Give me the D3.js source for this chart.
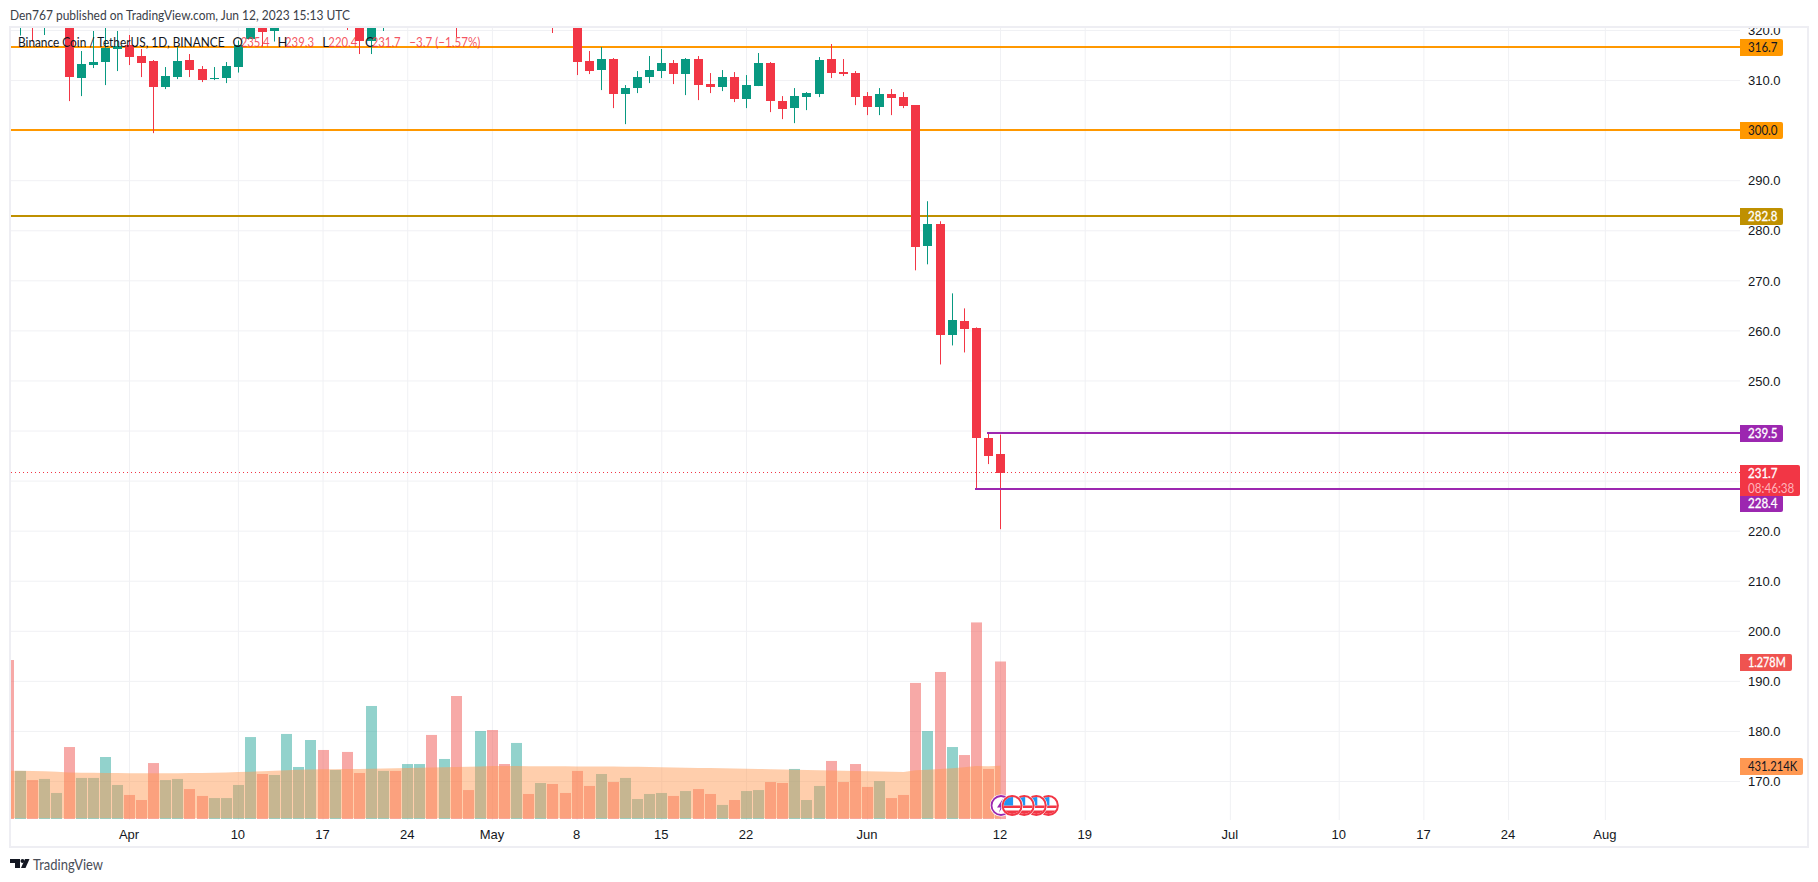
<!DOCTYPE html>
<html>
<head>
<meta charset="utf-8">
<title>BNB / TetherUS</title>
<script src="https://cdn.jsdelivr.net/npm/d3@7"></script>
<style>
    html, body { margin: 0; background: #fff; overflow: hidden; }
    svg { display: block; font-family: Lato, "Open Sans", sans-serif; font-size: 13px; }
    .tick line { stroke: #f0f1f4; }
    .tick text { fill: #131722; font-size: 13px; }
</style>
</head>
<body>
<svg id="chart" width="1818" height="882"></svg>
<script>
// Daily candles, first bar is 22 Mar 2023. Anything above 320.6 is off the top of the picture so those are guesses
const openPrices = [330, 326, 329, 324, 326, 328, 310.6, 313.1, 313.7, 316.3,
    317.1, 314.9, 313.9, 308.7, 310.7, 314.1, 312.3, 310.3, 310.5, 312.7,
    318.4, 321.5, 319.8, 323, 327, 329, 333, 330, 336, 327,
    317.9, 328, 331, 329, 331, 333, 326, 331, 324, 322.5,
    325, 323, 322, 326, 324, 330, 325, 322.5, 313.9, 312.1,
    314.3, 307.3, 308.5, 310.7, 311.9, 313.5, 311.3, 314.3, 309.3, 308.7,
    310.7, 306.3, 308.9, 313.5, 305.9, 304.5, 306.7, 307.3, 314.3, 311.7,
    311.5, 306.9, 304.7, 307.3, 306.7, 305.1, 276.9, 281.3, 259.1, 261.9,
    260.5, 238.7, 235.4];
const highPrices = [334, 331, 330, 328, 330, 329, 315.9, 319.9, 321.5, 319.9,
    319.1, 316.3, 314.1, 312.7, 316.9, 315.3, 312.9, 312.7, 313.7, 318,
    322.5, 322, 322.5, 328, 331, 335, 334, 338, 337, 328,
    330, 333, 332, 333, 335, 341, 335, 333, 326, 329,
    326, 325, 327, 328, 332, 331, 327, 324, 315.9, 316.7,
    314.5, 309.1, 311.9, 314.9, 316.3, 314.1, 314.5, 314.9, 311.5, 312.1,
    311.7, 311.1, 315.5, 313.7, 306.9, 308.5, 307.7, 314.7, 317.3, 314.3,
    311.9, 307.7, 308.5, 308.3, 307.7, 305.1, 285.9, 281.9, 267.5, 264.5,
    260.7, 239.5, 239.3];
const lowPrices = [323, 319, 317.8, 319.1, 322, 305.9, 306.9, 312.5, 309.1, 311.9,
    313.1, 310.7, 299.5, 308.3, 310.3, 310.7, 309.7, 310.1, 309.5, 311.6,
    318.4, 316.8, 317.8, 321, 325, 327, 327, 328, 320.1, 315.3,
    315.3, 319.9, 327, 323, 326, 322, 324, 318.7, 321.5, 320.5,
    321.5, 321, 320.5, 322, 323, 319.5, 320.5, 311.1, 311.3, 308.1,
    304.5, 301.3, 307.5, 309.5, 310.5, 309.3, 307.1, 306.1, 307.5, 307.9,
    305.7, 304.5, 308.9, 303.7, 302.3, 301.5, 304.1, 306.7, 310.5, 310.9,
    305.1, 303.1, 303.1, 303.1, 304.5, 272.1, 273.3, 253.3, 257.1, 255.7,
    228.4, 233.4, 220.4];
const closePrices = [326, 329, 324, 326, 328, 310.6, 313.3, 313.7, 316.5, 316.9,
    314.7, 313.5, 308.7, 310.9, 313.9, 312.1, 310.1, 310.5, 312.9, 317.1,
    321.5, 319.7, 323, 327, 329, 333, 330, 336, 327, 317.9,
    328, 331, 329, 331, 333, 326, 331, 324, 322.5, 325,
    323, 322, 326, 324, 330, 325, 322.5, 313.8, 311.9, 314.3,
    307.3, 308.5, 310.7, 312.1, 313.5, 311.3, 314.3, 309.1, 308.7, 310.7,
    306.3, 309.1, 313.5, 305.9, 304.3, 306.9, 307.5, 314.1, 311.5, 311.3,
    306.7, 304.7, 307.3, 306.5, 304.9, 276.7, 281.3, 259.1, 262.1, 260.3,
    238.5, 235.1, 231.7];

// Volume and its moving average, in thousands
const volumes = [1290, 390, 316, 325, 211, 584, 333, 333, 503, 276,
    195, 154, 454, 316, 325, 243, 187, 170, 170, 276,
    665, 365, 357, 690, 422, 641, 560, 398, 544, 373,
    917, 390, 390, 446, 446, 682, 487, 998, 235, 714,
    722, 446, 617, 203, 292, 284, 211, 390, 268, 365,
    300, 333, 162, 203, 211, 187, 227, 243, 203, 114,
    154, 227, 235, 300, 292, 406, 154, 268, 471, 300,
    446, 260, 308, 170, 195, 1104, 714, 1193, 584, 519,
    1595, 406, 1278];
const volumeMa = [392, 391, 390, 388, 384, 378, 376, 375, 374, 373,
    372, 372, 372, 372, 372, 373, 374, 376, 378, 381,
    384, 388, 392, 396, 399, 401, 403, 404, 405, 406,
    408, 410, 412, 414, 416, 418, 420, 422, 424, 426,
    430, 430, 430, 429, 429, 428, 428, 427, 427, 426,
    425, 424, 423, 422, 420, 418, 416, 414, 413, 412,
    410, 408, 406, 404, 402, 400, 398, 396, 394, 392,
    390, 388, 386, 384, 381, 395, 400, 406, 411, 419,
    430, 428, 431.2];

const priceTicks = d3.range(170, 330, 10);
const timeTicks = ["2023-04-01", "2023-04-10", "2023-04-17", "2023-04-24", "2023-05-01", "2023-05-08",
    "2023-05-15", "2023-05-22", "2023-06-01", "2023-06-12", "2023-06-19", "2023-07-01",
    "2023-07-10", "2023-07-17", "2023-07-24", "2023-08-01"];
const timeLabels = ["Apr", "10", "17", "24", "May", "8", "15", "22", "Jun", "12", "19", "Jul", "10", "17", "24", "Aug"];

const levelValues = [316.7, 300.0, 282.8];
const levelColors = ["#ff9800", "#ff9800", "#bf9000"];
const levelText = ["#131722", "#131722", "#ffffff"];
const rangeValues = [239.5, 228.4];
const rangeStart = ["2023-06-11", "2023-06-10"];
const lastPrice = 231.7;
const eventDays = ["2023-06-13", "2023-06-14", "2023-06-15", "2023-06-16"];

const RED = "#f23645", GREEN = "#089981", PURPLE = "#9c27b0";

// Pane edges, the price axis sits right of paneRight
const paneLeft = 11, paneRight = 1740, paneTop = 28, paneBottom = 820;

const parseDay = d3.utcParse("%Y-%m-%d");
const days = d3.utcDay.range(Date.UTC(2023, 2, 22), Date.UTC(2023, 5, 13));

const x = d3.scaleUtc().domain([parseDay("2023-04-01"), parseDay("2023-06-12")]).range([129, 1000]);
const y = d3.scaleLinear().domain([320, 170]).range([30.5, 781.5]);
const yVol = d3.scaleLinear().domain([0, 1278]).range([819, 661.5]);
const xPixel = d => Math.round(x(d));

const svg = d3.select("#chart");
svg.append("defs").append("clipPath").attr("id", "pane")
    .append("rect").attr("x", paneLeft).attr("y", paneTop)
    .attr("width", paneRight - paneLeft).attr("height", paneBottom - paneTop);

// Frame around the whole widget
svg.append("rect").attr("x", 10).attr("y", 27).attr("width", 1798).attr("height", 820)
    .attr("fill", "none").attr("stroke", "#eeeef3").attr("stroke-width", 2);

// Axes double as the grid
const xAxis = d3.axisBottom(x).offset(0)
    .tickValues(timeTicks.map(parseDay))
    .tickFormat((d, i) => timeLabels[i])
    .tickSize(paneTop - paneBottom).tickPadding(7);
const xAxisG = svg.append("g").attr("transform", `translate(0,${paneBottom})`).call(xAxis);
xAxisG.select(".domain").remove();
xAxisG.selectAll(".tick line").attr("transform", "translate(0.5,0)");
xAxisG.selectAll(".tick text").attr("dy", "1em").attr("y", 6);

const yAxis = d3.axisRight(y).offset(0)
    .tickValues(priceTicks)
    .tickFormat(d3.format(".1f"))
    .tickSize(paneLeft - paneRight).tickPadding(0);
const yAxisG = svg.append("g").attr("transform", `translate(${paneRight},0)`).call(yAxis);
yAxisG.select(".domain").remove();
yAxisG.selectAll(".tick text").attr("x", 8).attr("dy", "0.36em");

// Clip the axis labels at the top, 320.0 is cut off in the chart
svg.append("rect").attr("x", paneRight).attr("y", 0).attr("width", 78).attr("height", 26).attr("fill", "#fff");
svg.append("rect").attr("x", paneRight).attr("y", 26).attr("width", 68).attr("height", 2).attr("fill", "#eeeef3");

const pane = svg.append("g").attr("clip-path", "url(#pane)");

// Volume bars
pane.append("g").selectAll("rect").data(days).join("rect")
    .attr("x", d => xPixel(d) - 5)
    .attr("width", 11)
    .attr("y", (d, i) => yVol(volumes[i]))
    .attr("height", (d, i) => yVol(0) - yVol(volumes[i]))
    .attr("fill", (d, i) => closePrices[i] >= openPrices[i] ? "#26a69a" : "#ef5350")
    .attr("fill-opacity", 0.5);

// Volume moving average
const maArea = d3.area()
    .x(d => x(d) + 0.5)
    .y0(yVol(0) - 0.7)
    .y1((d, i) => yVol(volumeMa[i]));
pane.append("path").attr("d", maArea(days))
    .attr("fill", "#ff9852").attr("fill-opacity", 0.48);

// Horizontal levels go under the candles
pane.append("g").selectAll("line").data(levelValues).join("line")
    .attr("x1", paneLeft).attr("x2", paneRight)
    .attr("y1", d => Math.floor(y(d))).attr("y2", d => Math.floor(y(d)))
    .attr("stroke", (d, i) => levelColors[i]).attr("stroke-width", 2);

pane.append("line")
    .attr("x1", paneLeft).attr("x2", paneRight)
    .attr("y1", Math.floor(y(lastPrice)) + 0.5).attr("y2", Math.floor(y(lastPrice)) + 0.5)
    .attr("stroke", RED).attr("stroke-dasharray", "1 3");

// Candles
const candle = pane.append("g").selectAll("g").data(days).join("g")
    .attr("fill", (d, i) => closePrices[i] >= openPrices[i] ? GREEN : RED);
candle.append("rect")
    .attr("x", d => xPixel(d)).attr("width", 1)
    .attr("y", (d, i) => y(highPrices[i]))
    .attr("height", (d, i) => y(lowPrices[i]) - y(highPrices[i]));
candle.append("rect")
    .attr("x", d => xPixel(d) - 4).attr("width", 9)
    .attr("y", (d, i) => Math.round(y(Math.max(openPrices[i], closePrices[i]))))
    .attr("height", (d, i) => Math.max(1, Math.round(Math.abs(y(openPrices[i]) - y(closePrices[i])))));

// The two purple lines that start at the last candles
pane.append("g").selectAll("line").data(rangeValues).join("line")
    .attr("x1", (d, i) => xPixel(parseDay(rangeStart[i])) - 1).attr("x2", paneRight)
    .attr("y1", d => Math.floor(y(d))).attr("y2", d => Math.floor(y(d)))
    .attr("stroke", PURPLE).attr("stroke-width", 2);

// Event markers under the last bar
const markerY = 805.5;
const markers = svg.append("g");
const lightning = markers.append("g").attr("transform", `translate(${x(parseDay("2023-06-12")) + 1},${markerY})`);
lightning.append("circle").attr("r", 11).attr("fill", "#fff");
lightning.append("circle").attr("r", 9.5).attr("fill", "#fff").attr("stroke", PURPLE).attr("stroke-width", 1.8);
lightning.append("path").attr("d", "M2 -7 L-4 2 L-0.5 2 L-2 7 L4 -2 L0.5 -2 Z").attr("fill", PURPLE);

svg.select("defs").append("clipPath").attr("id", "flag").append("circle").attr("r", 8.5);
// Reversed so the earlier flag ends up on top
const flag = markers.append("g").selectAll("g").data(eventDays.slice().reverse()).join("g")
    .attr("transform", d => `translate(${x(parseDay(d))},${markerY})`);
flag.append("circle").attr("r", 11).attr("fill", "#fff");
const flagInner = flag.append("g").attr("clip-path", "url(#flag)");
flagInner.append("rect").attr("x", -10).attr("y", 0).attr("width", 20).attr("height", 2.5).attr("fill", RED);
flagInner.append("rect").attr("x", -10).attr("y", 5).attr("width", 20).attr("height", 5).attr("fill", RED);
flagInner.append("rect").attr("x", -8).attr("y", -9).attr("width", 9).attr("height", 9).attr("fill", "#2196f3");
flag.append("circle").attr("r", 9.5).attr("fill", "none").attr("stroke", RED).attr("stroke-width", 2);

// Price scale tags, the text is squeezed to the width it has in the chart
function addTag(top, width, height, color, textColor, label, textWidth) {
    const g = svg.append("g");
    g.append("path")
        .attr("d", `M${paneRight} ${top}h${width - 2}q2 0 2 2v${height - 4}q0 2 -2 2h${2 - width}z`)
        .attr("fill", color);
    g.append("text").attr("x", paneRight + 8).attr("y", top + height / 2).attr("dy", "0.36em")
        .attr("fill", textColor).attr("stroke", textColor === "#ffffff" ? textColor : "none")
        .attr("stroke-width", 0.3)
        .attr("textLength", textWidth).attr("lengthAdjust", "spacingAndGlyphs").text(label);
}
levelValues.forEach((v, i) => addTag(Math.floor(y(v)) - 8, 43, 17, levelColors[i], levelText[i], v.toFixed(1), 29.5));
addTag(Math.floor(y(rangeValues[0])) - 8, 43, 17, PURPLE, "#ffffff", rangeValues[0].toFixed(1), 29.5);
addTag(495, 43, 17, PURPLE, "#ffffff", rangeValues[1].toFixed(1), 29.5);
addTag(Math.round(yVol(1278)) - 8, 52, 17, "#ef5350", "#ffffff", "1.278M", 37.7);
addTag(Math.round(yVol(431.2)) - 8, 63, 17, "#ff9852", "#131722", "431.214K", 49.3);

const lastTop = Math.round(y(lastPrice)) - 8;
svg.append("path")
    .attr("d", `M${paneRight} ${lastTop}h58q2 0 2 2v27q0 2 -2 2h-58z`)
    .attr("fill", RED);
svg.append("text").attr("x", paneRight + 8).attr("y", lastTop + 8.5).attr("dy", "0.36em")
    .attr("fill", "#fff").attr("stroke", "#fff").attr("stroke-width", 0.3)
    .attr("textLength", 29.5).attr("lengthAdjust", "spacingAndGlyphs").text(lastPrice.toFixed(1));
svg.append("text").attr("x", paneRight + 8).attr("y", lastTop + 23).attr("dy", "0.36em")
    .attr("fill", "#ffb3ba").attr("textLength", 46.3).attr("lengthAdjust", "spacingAndGlyphs").text("08:46:38");

// Text on top
svg.append("text").attr("x", 10).attr("y", 15).attr("dy", "0.36em").attr("fill", "#3a3e48")
    .attr("textLength", 340).attr("lengthAdjust", "spacingAndGlyphs")
    .text("Den767 published on TradingView.com, Jun 12, 2023 15:13 UTC");

const legend = svg.append("g").attr("transform", "translate(0,42)");
legend.append("text").attr("x", 18).attr("dy", "0.36em").attr("fill", "#131722")
    .attr("textLength", 206.5).attr("lengthAdjust", "spacingAndGlyphs")
    .text("Binance Coin / TetherUS, 1D, BINANCE");
const legendKeys = ["O", "H", "L", "C"];
const legendKeyX = [232.5, 277.5, 322.3, 365];
const legendValX = [240.7, 285, 328.3, 371.7];
const legendVals = ["235.4", "239.3", "220.4", "231.7"];
legendKeys.forEach((k, i) => {
    legend.append("text").attr("x", legendKeyX[i]).attr("dy", "0.36em").attr("fill", "#131722").text(k);
    legend.append("text").attr("x", legendValX[i]).attr("dy", "0.36em").attr("fill", RED).attr("fill-opacity", 0.85)
        .attr("textLength", 29).attr("lengthAdjust", "spacingAndGlyphs").text(legendVals[i]);
});
legend.append("text").attr("x", 409.3).attr("dy", "0.36em").attr("fill", RED).attr("fill-opacity", 0.85)
    .attr("textLength", 71).attr("lengthAdjust", "spacingAndGlyphs").text("\u22123.7 (\u22121.57%)");

// TradingView logo
const logo = svg.append("g").attr("fill", "#131722");
logo.append("path").attr("d", "M10 859h10v9h-5v-5h-5z");
logo.append("circle").attr("cx", 22.5).attr("cy", 861).attr("r", 2);
logo.append("path").attr("d", "M25 859h4.5l-4 9h-4.5z");
svg.append("text").attr("x", 33).attr("y", 865).attr("dy", "0.36em")
    .attr("fill", "#4a4e58").style("font-size", "15px")
    .attr("textLength", 70).attr("lengthAdjust", "spacingAndGlyphs").text("TradingView");
</script>
</body>
</html>
